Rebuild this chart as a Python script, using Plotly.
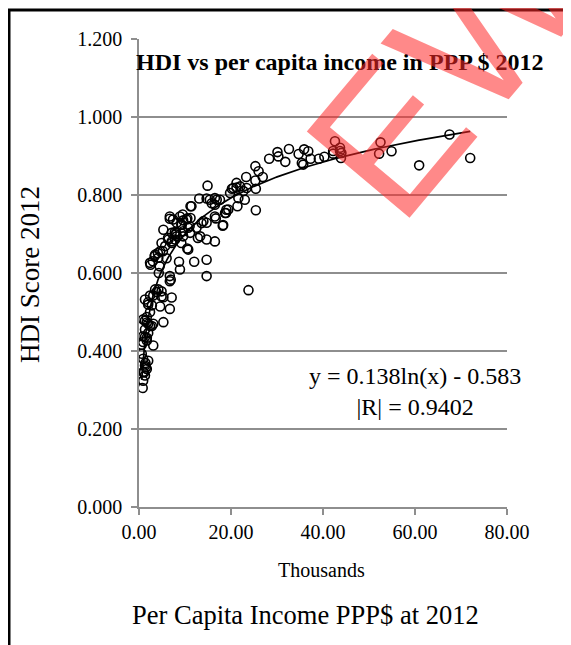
import numpy as np
import plotly.graph_objects as go

# Per capita income (thousands PPP$) and HDI score
income_k = [
    67.5, 72.0, 60.9, 52.5, 52.2, 54.9, 42.6, 43.7, 43.7, 43.9, 42.2, 44.0,
    40.3, 39.1, 37.3, 35.7, 35.4, 34.7, 35.9, 36.8, 32.6, 30.1, 30.3, 31.8, 28.3, 42.2,
    25.3, 26.0, 26.9, 25.3, 23.3, 25.4, 25.4,
    21.2, 20.2, 21.2, 22.0, 22.7, 23.0, 21.6, 21.4, 19.8, 19.4, 18.9, 18.3, 23.4, 20.5,
    17.6, 19.0, 18.7, 18.2,
    14.9, 13.1, 14.7, 16.5, 15.8, 15.4, 16.9, 16.5, 16.5, 16.7, 14.7, 14.0, 14.7, 16.5,
    13.3, 12.8, 12.5, 14.7, 14.7, 13.6, 11.4,
    11.2, 11.2, 10.5, 10.7, 11.1, 10.5, 12.0, 11.0, 10.3, 10.7,
    9.5, 9.6, 9.3, 8.9, 8.2, 7.8, 7.1, 8.0, 8.2, 9.6, 8.7, 8.9, 9.2, 9.6, 7.4, 8.1,
    7.1, 7.8, 9.2,
    6.7, 6.7, 5.3, 4.9, 5.7, 6.4, 7.1, 6.7, 6.9, 6.7, 6.3, 6.0, 5.2, 7.1, 6.7, 5.3,
    4.9, 4.9, 5.3, 4.6, 4.6,
    4.2, 3.5, 4.1, 3.4, 2.4, 2.5, 3.0, 4.3, 4.2, 3.5, 3.8, 3.1, 2.4, 2.0, 2.8, 2.4,
    3.1, 3.1, 2.8, 2.4, 4.5,
    1.3, 2.0, 0.9, 1.7, 1.7, 1.3, 1.3, 2.0, 2.0, 0.9, 1.7, 1.3, 1.7, 0.6, 0.9, 0.6,
    0.9, 2.0, 1.3, 1.7, 0.9, 1.3, 0.9, 0.8, 1.5, 1.1, 1.4,
    23.8,
]
hdi_score = [
    0.955, 0.895, 0.876, 0.935, 0.906, 0.912, 0.938, 0.921, 0.913, 0.895, 0.913, 0.908,
    0.898, 0.893, 0.893, 0.878, 0.882, 0.905, 0.917, 0.912, 0.918, 0.910, 0.899, 0.885, 0.893, 0.906,
    0.874, 0.861, 0.846, 0.837, 0.846, 0.816, 0.761,
    0.819, 0.816, 0.831, 0.822, 0.810, 0.788, 0.792, 0.771, 0.805, 0.763, 0.754, 0.723, 0.818, 0.818,
    0.788, 0.762, 0.754, 0.721,
    0.824, 0.791, 0.791, 0.792, 0.779, 0.788, 0.788, 0.775, 0.745, 0.740, 0.729, 0.733, 0.686, 0.681,
    0.694, 0.690, 0.716, 0.634, 0.592, 0.728, 0.771,
    0.771, 0.741, 0.740, 0.716, 0.703, 0.663, 0.629, 0.720, 0.737, 0.660,
    0.750, 0.735, 0.724, 0.745, 0.729, 0.705, 0.703, 0.699, 0.694, 0.707, 0.629, 0.609, 0.724, 0.694, 0.737, 0.703,
    0.681, 0.686, 0.677,
    0.745, 0.739, 0.711, 0.677, 0.669, 0.686, 0.677, 0.592, 0.583, 0.579, 0.690, 0.638, 0.656, 0.537, 0.508, 0.538,
    0.553, 0.540, 0.474, 0.514, 0.656,
    0.639, 0.647, 0.651, 0.643, 0.626, 0.621, 0.630, 0.600, 0.558, 0.558, 0.551, 0.542, 0.542, 0.519, 0.517, 0.500,
    0.470, 0.414, 0.464, 0.464, 0.617,
    0.532, 0.525, 0.481, 0.473, 0.487, 0.478, 0.455, 0.470, 0.446, 0.438, 0.434, 0.436, 0.427, 0.416, 0.423, 0.393,
    0.380, 0.375, 0.363, 0.354, 0.346, 0.337, 0.324, 0.305, 0.358, 0.345, 0.369,
    0.556,
]

x_ticks = [0, 20, 40, 60, 80]
y_ticks = [0.0, 0.2, 0.4, 0.6, 0.8, 1.0, 1.2]

title_text = "HDI vs per capita income in PPP $ 2012"
equation_text = "y = 0.138ln(x) - 0.583"
r_text = "|R| = 0.9402"

# Logarithmic trendline fitted to the data (x in dollars)
xs = np.array(income_k)
ys = np.array(hdi_score)
slope, intercept = np.polyfit(np.log(xs * 1000), ys, 1)
trend_x = np.linspace(xs.min(), xs.max(), 200)
trend_y = slope * np.log(trend_x * 1000) + intercept

SERIF = "Liberation Serif, Times New Roman, serif"
GRID = "#8e8e8e"

# page offset (body margin) and plot-area geometry in screen pixels
L, T, PW, PH = 131, 31, 368, 468
OFF = 8


def px(sx):
    return (sx - OFF - L) / PW


def py(sy):
    return 1 - (sy - OFF - T) / PH


fig = go.Figure()
fig.add_trace(go.Scatter(
    x=income_k, y=hdi_score, mode="markers",
    marker=dict(symbol="circle-open", size=9, color="black", line=dict(width=1.6, color="black")),
    showlegend=False, hoverinfo="x+y",
))
fig.add_trace(go.Scatter(
    x=trend_x, y=trend_y, mode="lines",
    line=dict(color="black", width=1.7), showlegend=False, hoverinfo="skip",
))

fig.update_layout(
    width=563, height=637,
    margin=dict(l=L, r=563 - L - PW, t=T, b=637 - T - PH, pad=0),
    paper_bgcolor="white", plot_bgcolor="white",
    font=dict(family=SERIF, color="black", size=19),
    xaxis=dict(
        range=[0, 80], tickvals=x_ticks, tickformat=".2f",
        showgrid=False, zeroline=False,
        showline=True, linecolor=GRID, linewidth=1.5,
        ticks="outside", ticklen=6, tickcolor=GRID, tickwidth=1.5,
        tickfont=dict(family=SERIF, size=20, color="black"),
    ),
    yaxis=dict(
        range=[0, 1.2], tickvals=y_ticks, tickformat=".3f",
        showgrid=True, gridcolor=GRID, gridwidth=1.5,
        zeroline=False,
        showline=True, linecolor=GRID, linewidth=1.5,
        ticks="outside", ticklen=6, tickcolor=GRID, tickwidth=1.5,
        ticklabelstandoff=5,
        tickfont=dict(family=SERIF, size=20, color="black"),
    ),
    shapes=[
        dict(type="rect", xref="paper", yref="paper",
             x0=px(9), x1=px(590), y0=py(670), y1=py(10),
             line=dict(color="black", width=3), fillcolor="rgba(0,0,0,0)", layer="above"),
    ],
    annotations=[
        dict(text="<b>" + title_text + "</b>", xref="paper", yref="paper",
             x=px(340), y=py(62), showarrow=False,
             xanchor="center", yanchor="middle",
             font=dict(family=SERIF, size=24, color="black")),
        dict(text="HDI Score 2012", xref="paper", yref="paper",
             x=px(30), y=py(275), showarrow=False, textangle=-90,
             xanchor="center", yanchor="middle",
             font=dict(family=SERIF, size=27, color="black")),
        dict(text="Thousands", xref="paper", yref="paper",
             x=px(321), y=py(570), showarrow=False,
             xanchor="center", yanchor="middle",
             font=dict(family=SERIF, size=20, color="black")),
        dict(text="Per Capita Income PPP$ at 2012", xref="paper", yref="paper",
             x=px(305), y=py(615), showarrow=False,
             xanchor="center", yanchor="middle",
             font=dict(family=SERIF, size=26.5, color="black")),
        dict(text=equation_text + "<br>" + r_text, xref="paper", yref="paper",
             x=px(415), y=py(391), showarrow=False,
             xanchor="center", yanchor="middle", align="center",
             font=dict(family=SERIF, size=24, color="black")),
        dict(text="EW", xref="paper", yref="paper",
             x=px(448), y=py(66), showarrow=False, textangle=-50,
             xanchor="center", yanchor="middle",
             font=dict(family="Liberation Sans, Arial, sans-serif", size=195,
                       color="rgba(255,40,40,0.55)")),
    ],
)

fig.write_html("out.html")
